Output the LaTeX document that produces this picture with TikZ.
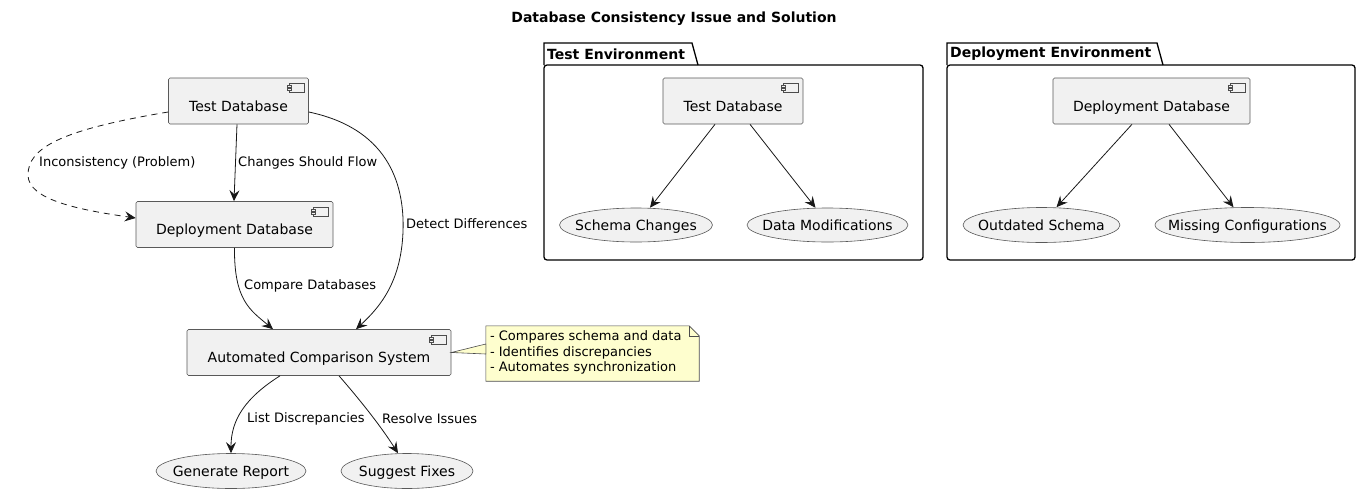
\documentclass[tikz,border=0pt]{standalone}
\usepackage{fontspec}
\setmainfont{DejaVu Sans}
\usetikzlibrary{shapes.geometric,arrows.meta,calc}
\definecolor{boxfill}{HTML}{F1F1F1}
\definecolor{linecol}{HTML}{181818}
\definecolor{notefill}{HTML}{FEFECE}
\tikzset{
  comp/.style={draw=black!65, line width=0.6pt, fill=boxfill, rounded corners=1.5pt,
    minimum height=46pt, text height=21pt, text depth=1pt, inner sep=0pt,
    font=\fontsize{14}{16}\selectfont},
  usecase/.style={ellipse, draw=black!65, line width=0.6pt, fill=boxfill, minimum height=35pt,
    text height=11pt, text depth=1pt, inner sep=0pt, font=\fontsize{14}{16}\selectfont},
  flow/.style={draw=linecol, line width=0.8pt, -{Stealth[length=11pt,width=10pt,inset=4pt]}},
  lbl/.style={font=\fontsize{13}{15}\selectfont, inner sep=0pt, anchor=west},
  pkg/.style={draw=black, line width=1.3pt},
  pkgtitle/.style={font=\bfseries\fontsize{14}{16}\selectfont, inner sep=0pt, anchor=west},
  iconline/.style={draw=black!70, line width=0.6pt, fill=boxfill}
}
\newcommand{\compicon}[1]{%
  \draw[iconline] ($(#1.north east)+(-20,6)$) rectangle ($(#1.north east)+(-5,15)$);
  \draw[iconline] ($(#1.north east)+(-22,8)$) rectangle ($(#1.north east)+(-18,10)$);
  \draw[iconline] ($(#1.north east)+(-22,11)$) rectangle ($(#1.north east)+(-18,13)$);
}
\newcommand{\uctext}[1]{\makebox[0pt]{#1}}
\begin{document}
\begin{tikzpicture}[x=1pt,y=-1pt]
\useasboundingbox (0,0) rectangle (1361,496);

% title
\node[font=\bfseries\fontsize{14}{16}\selectfont] (title) at (674,18.5) {Database Consistency Issue and Solution};

% packages
\draw[pkg] (544,65) -- (544,43) -- (692,43) -- (698,65);
\draw[pkg, rounded corners=3pt] (544,65) -- (923,65) -- (923,260) -- (544,260) -- cycle;
\node[pkgtitle] (tenv) at (547,54) {Test Environment};
\draw[pkg] (947,65) -- (947,43) -- (1157,43) -- (1163,65);
\draw[pkg, rounded corners=3pt] (947,65) -- (1355,65) -- (1355,260) -- (947,260) -- cycle;
\node[pkgtitle] (denv) at (950,54) {Deployment Environment};

% left components
\node[comp, minimum width=140pt] (tdb) at (238.5,101) {Test Database};
\node[comp, minimum width=197pt] (ddb) at (234.5,224.5) {Deployment Database};
\node[comp, minimum width=264pt] (acs) at (319,352.5) {Automated Comparison System};
\compicon{tdb}
\compicon{ddb}
\compicon{acs}

\node[usecase, minimum width=150pt] (gr) at (231,471) {\uctext{Generate Report}};
\node[usecase, minimum width=132pt] (sf) at (407,471) {\uctext{Suggest Fixes}};

% note
\node[inner sep=0pt, minimum width=213pt, minimum height=55pt] (note) at (592.5,353.5) {};
\draw[draw=black!70, line width=0.6pt, fill=notefill]
  (note.north west) -- ($(note.north east)+(-10,0)$) -- ($(note.north east)+(0,10)$)
  -- (note.south east) -- (note.south west) -- cycle;
\draw[draw=black!70, line width=0.6pt]
  ($(note.north east)+(-10,0)$) -- ($(note.north east)+(-10,10)$) -- ($(note.north east)+(0,10)$);
\draw[draw=black!70, line width=0.6pt, fill=notefill]
  (acs.east) -- ($(note.west)+(0,-9.5)$) -- ($(note.west)+(0,0.5)$) -- cycle;
\node[font=\fontsize{13}{15.5}\selectfont, align=left, anchor=north west, inner sep=0pt] (notetext)
  at ($(note.north west)+(4,5)$) {- Compares schema and data\\- Identifies discrepancies\\- Automates synchronization};

% left connectors
\draw[flow] ($(tdb.south)+(-1.5,0)$) -- ($(ddb.north)+(-0.5,0)$);
\node[lbl] (l1) at (238,163) {Changes Should Flow};

\draw[flow, dashed, dash pattern=on 6pt off 5pt] ($(tdb.west)+(0,11)$)
  .. controls (60,130) and (28,148) .. (28,175)
  .. controls (28,200) and (80,210) .. ($(ddb.west)+(0,-6.5)$);
\node[lbl] (l2) at (39,163) {Inconsistency (Problem)};

\draw[flow] ($(tdb.east)+(0,11)$)
  .. controls (385,128) and (405,180) .. (403,232)
  .. controls (401,282) and (380,307) .. ($(acs.north)+(37,0)$);
\node[lbl] (l3) at (406,224) {Detect Differences};

\draw[flow] (ddb.south)
  .. controls (234,300) and (250,310) .. ($(acs.north)+(-46,0)$);
\node[lbl] (l4) at (244,286) {Compare Databases};

\draw[flow] ($(acs.south)+(-39,0)$)
  .. controls (245,398) and (231,420) .. (gr.north);
\node[lbl] (l5) at (247,419) {List Discrepancies};

\draw[flow] ($(acs.south)+(20,0)$)
  .. controls (360,400) and (380,425) .. ($(sf.north)+(-9,0)$);
\node[lbl] (l6) at (382,419) {Resolve Issues};

% Test environment
\node[comp, minimum width=140pt] (ttdb) at (733,101) {Test Database};
\compicon{ttdb}
\node[usecase, minimum width=153pt, minimum height=34pt] (sc) at (636,225) {\uctext{Schema Changes}};
\node[usecase, minimum width=161pt, minimum height=34pt] (dm) at (827.5,225) {\uctext{Data Modifications}};
\draw[flow] ($(ttdb.south)+(-18,0)$) -- ($(sc.north)+(14,0)$);
\draw[flow] ($(ttdb.south)+(17,0)$) -- ($(dm.north)+(-12,0)$);

% Deployment environment
\node[comp, minimum width=197pt] (dpdb) at (1151.5,101) {Deployment Database};
\compicon{dpdb}
\node[usecase, minimum width=157pt] (os) at (1041.5,225) {\uctext{Outdated Schema}};
\node[usecase, minimum width=185pt] (mc) at (1247.5,225) {\uctext{Missing Configurations}};
\draw[flow] ($(dpdb.south)+(-19.5,0)$) -- ($(os.north)+(15,0)$);
\draw[flow] ($(dpdb.south)+(17.5,0)$) -- ($(mc.north)+(-14,0)$);
\end{tikzpicture}
\end{document}
